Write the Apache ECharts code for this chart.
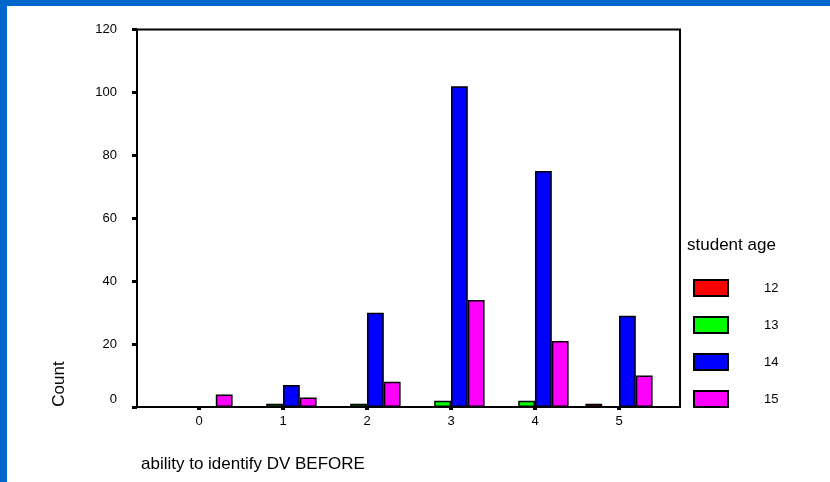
<!DOCTYPE html>
<html>
<head>
<meta charset="utf-8">
<script src="https://cdn.jsdelivr.net/npm/echarts@6/dist/echarts.min.js"></script>
<style>
html,body{margin:0;padding:0;background:#fff;}
#chart{width:830px;height:482px;}
</style>
</head>
<body>
<div id="chart"></div>
<script>
var categories = ['0', '1', '2', '3', '4', '5'];
var seriesNames = ['12', '13', '14', '15'];
var age12 = [0, 0, 0, 0, 0, 1];
var age13 = [0, 1, 1, 2, 2, 0];
var age14 = [0, 7, 30, 102, 75, 29];
var age15 = [4, 3, 8, 34, 21, 10];
var yTicks = [0, 20, 40, 60, 80, 100, 120];
var colors = ['#ff0000', '#00ff00', '#0000ff', '#ff00ff'];

var allData = [age12, age13, age14, age15];
var FONT = 'Liberation Sans, Arial, sans-serif';

var chart = echarts.init(document.getElementById('chart'), null, {renderer: 'canvas'});

var series = allData.map(function (arr, i) {
  return {
    name: seriesNames[i],
    type: 'bar',
    xAxisIndex: 1,
    yAxisIndex: 1,
    barGap: '0%',
    barCategoryGap: '20%',
    data: arr.map(function (v) { return v === 0 ? null : v; }),
    itemStyle: { color: colors[i], borderColor: '#000', borderWidth: 1.5 },
    emphasis: { disabled: true },
    animation: false
  };
});

chart.setOption({
  animation: false,
  backgroundColor: '#fff',
  textStyle: { fontFamily: FONT },
  grid: [
    { left: 137, right: 150, top: 29.5, bottom: 75, show: true, borderColor: '#000', borderWidth: 2, backgroundColor: 'transparent' },
    { left: 157, right: 169, top: 29.5, bottom: 75 }
  ],
  xAxis: [
    { type: 'value', gridIndex: 0, show: false, min: 0, max: 1 },
    {
      type: 'category', gridIndex: 1, data: categories,
      axisLine: { show: false },
      axisTick: { show: true, alignWithLabel: true, length: 3, lineStyle: { color: '#000', width: 4 } },
      axisLabel: { margin: 8, fontSize: 13, color: '#000', fontFamily: FONT }
    }
  ],
  yAxis: [
    {
      type: 'value', gridIndex: 0, min: yTicks[0], max: yTicks[yTicks.length - 1], interval: 20,
      axisLine: { show: false },
      axisTick: { show: true, length: 5, lineStyle: { color: '#000', width: 3 } },
      axisLabel: {
        margin: 20, fontSize: 13, color: '#000', fontFamily: FONT,
        formatter: function (v) { return v === 0 ? '{z|0}' : String(v); },
        rich: { z: { fontSize: 13, color: '#000', fontFamily: FONT, padding: [0, 0, 16, 0] } }
      },
      splitLine: { show: false }
    },
    { type: 'value', gridIndex: 1, min: 0, max: 120, show: false }
  ],
  legend: {
    orient: 'vertical',
    left: 693,
    top: 279,
    padding: 0,
    icon: 'rect',
    itemWidth: 34,
    itemHeight: 16,
    itemGap: 19,
    data: seriesNames,
    selectedMode: false,
    formatter: '{a|{name}}',
    textStyle: {
      fontSize: 13, color: '#000', fontFamily: FONT,
      rich: { a: { fontSize: 13, color: '#000', fontFamily: FONT, padding: [0, 0, 0, 31] } }
    }
  },
  graphic: [
    { type: 'rect', left: 0, top: 0, shape: { width: 830, height: 6 }, style: { fill: '#0066cc' }, silent: true },
    { type: 'rect', left: 0, top: 0, shape: { width: 7, height: 482 }, style: { fill: '#0066cc' }, silent: true },
    { type: 'text', x: 59, y: 384, rotation: Math.PI / 2, style: { text: 'Count', font: '17px ' + FONT, fill: '#000', textAlign: 'center', textVerticalAlign: 'middle' } },
    { type: 'text', x: 141, y: 464, style: { text: 'ability to identify DV BEFORE', font: '17px ' + FONT, fill: '#000', textAlign: 'left', textVerticalAlign: 'middle' } },
    { type: 'text', x: 687, y: 245, style: { text: 'student age', font: '17px ' + FONT, fill: '#000', textAlign: 'left', textVerticalAlign: 'middle' } }
  ],
  series: series
});
</script>
</body>
</html>
